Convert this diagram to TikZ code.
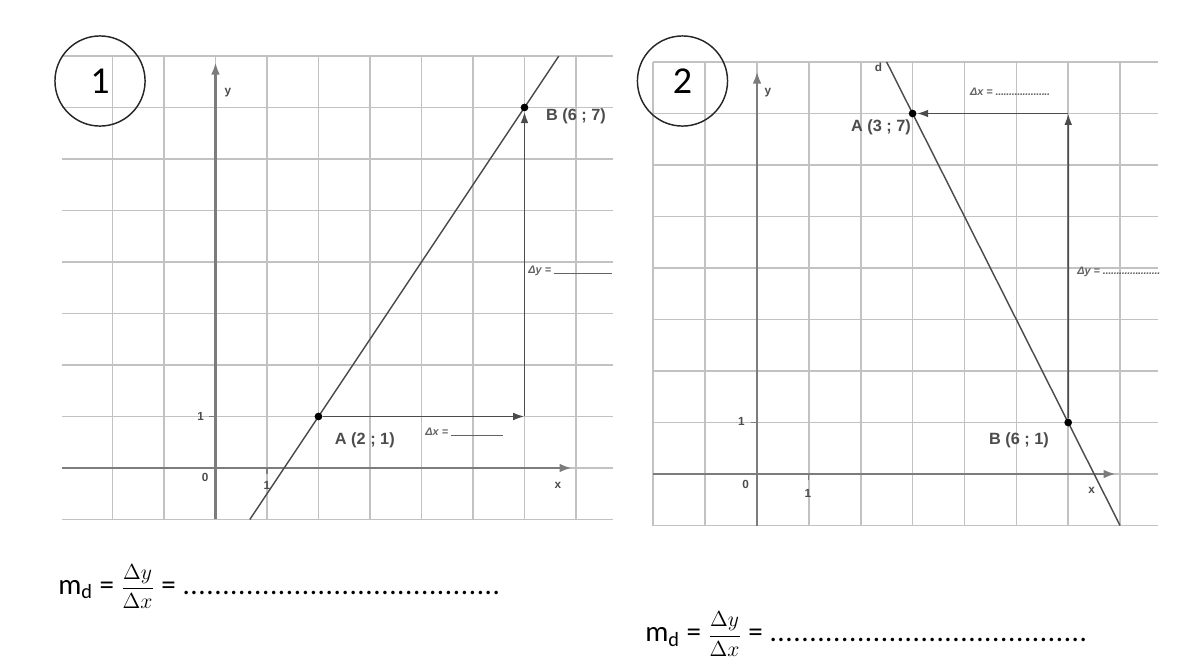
\documentclass[tikz,border=0pt]{standalone}
\usepackage{fontspec}
\usepackage{amsmath}
\setmainfont{Carlito}
\newfontfamily\graphfont{Liberation Sans}
\usetikzlibrary{arrows.meta, positioning, calc}
\definecolor{gridgray}{HTML}{C2C2C2}
\definecolor{axisgray}{HTML}{7C7C7C}
\definecolor{inkgray}{HTML}{4C4C4C}
\newcommand{\fillerdots}[2][4.4pt]{\makebox[#2]{\leaders\hbox to #1{\hss.\hss}\hfill}}
\newcommand{\slopefrac}{{\fontsize{13}{15}\selectfont$\dfrac{\Delta y}{\Delta x}$}}
\tikzset{
  gridline/.style ={draw=gridgray, line width=0.9pt},
  axis/.style     ={draw=axisgray, line width=1.4pt, -{Latex[length=2.4mm, width=1.7mm]}},
  dline/.style    ={draw=inkgray, line width=0.8pt},
  delta/.style    ={draw=inkgray, line width=1pt, -{Latex[length=2.2mm, width=1.5mm]}},
  point/.style    ={circle, fill=black, inner sep=0pt, minimum size=1.5mm},
  ptlabel/.style  ={font=\graphfont\bfseries\fontsize{9}{10}\selectfont, text=inkgray, inner sep=0pt},
  ticklabel/.style={font=\graphfont\bfseries\fontsize{6.5}{7}\selectfont, text=inkgray, inner sep=0pt},
  blank/.style    ={font=\graphfont\bfseries\itshape\fontsize{6}{7}\selectfont, text=axisgray!80!black, anchor=west, inner sep=0pt},
  numring/.style  ={circle, draw=black!85, line width=0.8pt, minimum size=17.5mm, inner sep=0pt, font=\fontsize{21}{23}\selectfont},
  formula/.style  ={anchor=west, inner sep=0pt, font=\fontsize{16}{18}\selectfont},
}

\begin{document}
\begin{tikzpicture}
\useasboundingbox (0,0) rectangle (23.262,12.932);

% graph 1
\begin{scope}[shift={(4.184,3.845)}]
\draw[gridline] (-2,-1) grid (7,8);
\foreach \y in {-1,...,8} {
  \draw[gridline] (-2.98,\y) -- (-2,\y);
  \draw[gridline] (7,\y) -- (7.72,\y);
}
\draw[axis] (-2.98,0) -- (6.92,0);
\draw[axis] (0,-1) -- (0,7.88);
\draw[axisgray, line width=0.6pt] (-0.12,1) -- (0,1) (1,0) -- (1,-0.12);
\node[ticklabel] (ylab1) at (0.24,7.28) {y};
\node[ticklabel] (xlab1) at (6.65,-0.33) {x};
\node[ticklabel] (zero1) at (-0.2,-0.19) {0};
\node[ticklabel] (xone1) at (1.0,-0.33) {1};
\node[ticklabel] (yone1) at (-0.29,1.0) {1};

\draw[dline] (0.667,-1) -- (6.667,8);
\node[point] (A1) at (2,1) {};
\node[point] (B1) at (6,7) {};
\coordinate (C1) at (6,1);
\draw[delta] (A1) -- (C1);
\draw[delta] (C1) -- (B1);

\node[ptlabel] (labA1) at (2.9,0.54) {A (2 ; 1)};
\node[ptlabel] (labB1) at (7.0,6.82) {B (6 ; 7)};
\node[blank] (dx1) at (4.07,0.70) {Δx = \rule[-0.3pt]{1.0cm}{0.45pt}};
\node[blank] (dy1) at (6.07,3.83) {Δy = \rule[-0.3pt]{1.12cm}{0.45pt}};
\end{scope}

% graph 2
\begin{scope}[shift={(14.699,3.728)}, xscale=1.007]
\draw[gridline] (-2,-1) grid (7,8);
\foreach \y in {-1,...,8} {
  \draw[gridline] (7,\y) -- (7.74,\y);
}
\draw[axis] (-2,0) -- (6.92,0);
\draw[axis] (0,-1) -- (0,7.82);
\draw[axisgray, line width=0.6pt] (-0.12,1) -- (0,1) (1,0) -- (1,-0.12);
\node[ticklabel] (ylab2) at (0.21,7.4) {y};
\node[ticklabel] (xlab2) at (6.45,-0.31) {x};
\node[ticklabel] (zero2) at (-0.22,-0.21) {0};
\node[ticklabel] (xone2) at (0.98,-0.37) {1};
\node[ticklabel] (yone2) at (-0.3,1.03) {1};
\node[ticklabel] (dlab2) at (2.34,7.9) {d};

\draw[dline] (2.5,8) -- (7,-1);
\node[point] (A2) at (3,7) {};
\node[point] (B2) at (6,1) {};
\coordinate (C2) at (6,7);
\draw[delta] (B2) -- (C2);
\draw[delta] (C2) -- (A2);

\node[ptlabel] (labA2) at (2.39,6.74) {A (3 ; 7)};
\node[ptlabel] (labB2) at (5.05,0.66) {B (6 ; 1)};
\node[blank] (dx2) at (4.1,7.42) {Δx = \fillerdots[1.5pt]{1.1cm}};
\node[blank] (dy2) at (6.17,3.92) {Δy = \fillerdots[1.5pt]{1.12cm}};
\end{scope}

\node[numring] (ring1) at (1.942,11.359) {1};
\node[numring] (ring2) at (13.252,11.359) {2};

\node[formula] (md1) at (1.126,1.54) {m\textsubscript{d} = \slopefrac{} = \fillerdots{6.2cm}};
\node[formula] (md2) at (12.524,0.62) {m\textsubscript{d} = \slopefrac{} = \fillerdots{6.2cm}};

\end{tikzpicture}
\end{document}
